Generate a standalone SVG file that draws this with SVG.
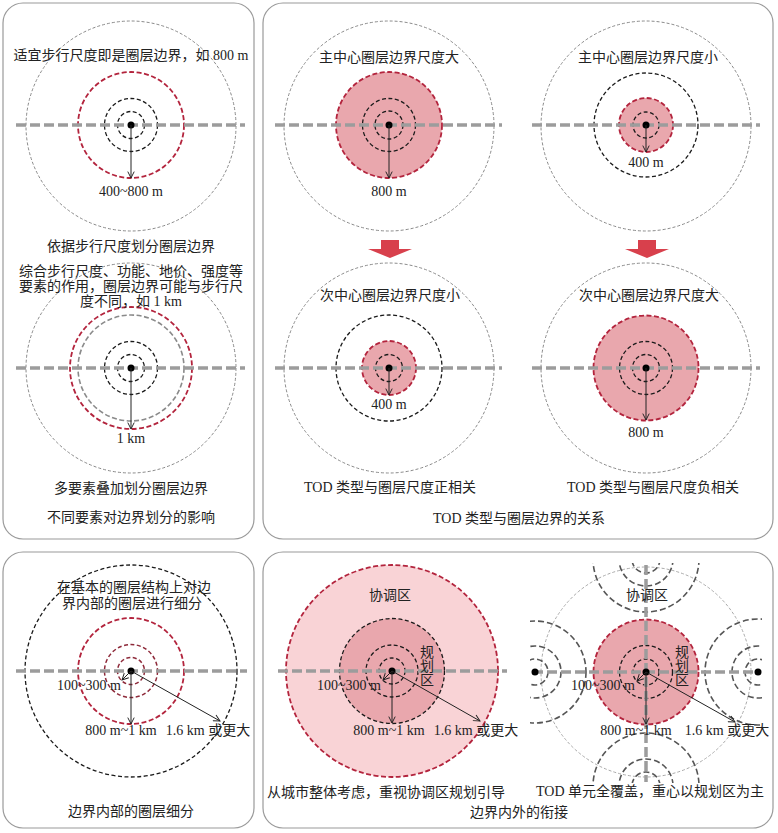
<svg xmlns="http://www.w3.org/2000/svg" width="778" height="833" viewBox="0 0 778 833">
<defs>
<style>
.panel{fill:#fff;stroke:#9a9a9a;stroke-width:1.2}
.axis{stroke:#9c9c9c;stroke-width:3.5;stroke-dasharray:10 4;fill:none}
.outer{fill:none;stroke:#8a8a8a;stroke-width:1;stroke-dasharray:3 2}
.outerl{fill:none;stroke:#aaaaaa;stroke-width:1;stroke-dasharray:3 2}
.blk{fill:none;stroke:#1a1a1a;stroke-width:1.3;stroke-dasharray:4 2.5}
.gry{fill:none;stroke:#8a8a8a;stroke-width:1.6;stroke-dasharray:5 2.5}
.red{fill:none;stroke:#b3243d;stroke-width:1.8;stroke-dasharray:5 2.5}
.mar{fill:none;stroke:#8e2a3a;stroke-width:1.5;stroke-dasharray:4 2.5}
.nb{fill:none;stroke:#555;stroke-width:1.6;stroke-dasharray:6 3}
.pink{fill:#e9a7ad}
.lpink{fill:#f9d3d6}
.dot{fill:#000}
.arr{stroke:#222;stroke-width:1;fill:none;marker-end:url(#ah)}
.blockarrow{fill:#d8404c}
text{font-family:'Liberation Serif','Noto Sans CJK SC',serif;font-size:14px;fill:#222;text-anchor:middle}
</style>
<marker id="ah" viewBox="0 0 10 10" refX="9" refY="5" markerWidth="8" markerHeight="8" orient="auto" markerUnits="userSpaceOnUse"><path d="M1,1 L9,5 L1,9" fill="none" stroke="#222" stroke-width="1.2"/></marker>
<clipPath id="nbclip"><rect x="530" y="563" width="232" height="220"/></clipPath>
</defs>

<g id="panels">
<rect class="panel" x="3" y="3" width="251" height="536" rx="20"/>
<rect class="panel" x="263" y="3" width="510" height="536" rx="20"/>
<rect class="panel" x="3" y="552" width="251" height="276" rx="20"/>
<rect class="panel" x="263" y="552" width="510" height="276" rx="20"/>
</g>

<g id="walk-scale">
<circle class="outer" cx="131" cy="126" r="105"/>
<circle class="red" cx="131" cy="125" r="53"/>
<circle class="blk" cx="131" cy="125" r="26.5"/>
<circle class="blk" cx="131" cy="125" r="13.5"/>
<line class="axis" x1="16" y1="125" x2="245" y2="125"/>
<circle class="dot" cx="131" cy="125" r="3.5"/>
<text x="131" y="60">适宜步行尺度即是圈层边界，如 800 m</text>
<text x="131" y="196">400~800 m</text>
<text x="131" y="251">依据步行尺度划分圈层边界</text>
</g>

<g id="multi-factor">
<circle class="outer" cx="131" cy="368" r="105"/>
<circle class="red" cx="131" cy="368" r="61"/>
<circle class="gry" cx="131" cy="368" r="53"/>
<circle class="blk" cx="131" cy="368" r="26.5"/>
<circle class="blk" cx="131" cy="368" r="13.5"/>
<line class="axis" x1="16" y1="368" x2="245" y2="368"/>
<circle class="dot" cx="131" cy="368" r="3.5"/>
<text x="131" y="276">综合步行尺度、功能、地价、强度等</text>
<text x="131" y="291">要素的作用，圈层边界可能与步行尺</text>
<text x="131" y="306">度不同，如 1 km</text>
<text x="131" y="443">1 km</text>
<text x="131" y="493">多要素叠加划分圈层边界</text>
<text x="131" y="522">不同要素对边界划分的影响</text>
</g>

<g id="main-large">
<circle class="outer" cx="389" cy="126" r="105"/>
<circle class="pink" cx="389" cy="125" r="53"/>
<circle class="red" cx="389" cy="125" r="53"/>
<circle class="blk" cx="389" cy="125" r="26.5"/>
<circle class="blk" cx="389" cy="125" r="14"/>
<line class="axis" x1="275" y1="125" x2="502" y2="125"/>
<circle class="dot" cx="389" cy="125" r="3.5"/>
<text x="389" y="62">主中心圈层边界尺度大</text>
<text x="389" y="196">800 m</text>
</g>

<g id="main-small">
<circle class="outer" cx="646" cy="126" r="105"/>
<circle class="blk" cx="646" cy="125" r="52"/>
<circle class="pink" cx="646" cy="125" r="27"/>
<circle class="red" cx="646" cy="125" r="27"/>
<circle class="blk" cx="646" cy="125" r="13"/>
<line class="axis" x1="532" y1="125" x2="760" y2="125"/>
<circle class="dot" cx="646" cy="125" r="3.5"/>
<text x="648" y="62">主中心圈层边界尺度小</text>
<text x="646" y="167">400 m</text>
</g>

<g id="sub-small">
<circle class="outer" cx="389" cy="368" r="105"/>
<circle class="blk" cx="389" cy="368" r="53"/>
<circle class="pink" cx="389" cy="368" r="27"/>
<circle class="red" cx="389" cy="368" r="27"/>
<circle class="blk" cx="389" cy="368" r="13.5"/>
<line class="axis" x1="275" y1="368" x2="502" y2="368"/>
<circle class="dot" cx="389" cy="368" r="3.5"/>
<text x="390" y="300">次中心圈层边界尺度小</text>
<text x="389" y="409">400 m</text>
<text x="390" y="492">TOD 类型与圈层尺度正相关</text>
</g>

<g id="sub-large">
<circle class="outer" cx="646" cy="368" r="105"/>
<circle class="pink" cx="646" cy="368" r="52.5"/>
<circle class="red" cx="646" cy="368" r="52.5"/>
<circle class="blk" cx="646" cy="368" r="26.5"/>
<circle class="blk" cx="646" cy="368" r="13.5"/>
<line class="axis" x1="532" y1="368" x2="760" y2="368"/>
<circle class="dot" cx="646" cy="368" r="3.5"/>
<text x="649" y="300">次中心圈层边界尺度大</text>
<text x="646" y="437">800 m</text>
<text x="653" y="492">TOD 类型与圈层尺度负相关</text>
<text x="519" y="523">TOD 类型与圈层边界的关系</text>
</g>

<g id="inner-subdivision">
<circle class="blk" cx="131" cy="671" r="106"/>
<circle class="red" cx="131" cy="671" r="53"/>
<circle class="mar" cx="131" cy="671" r="26.5"/>
<circle class="mar" cx="131" cy="671" r="13.5"/>
<line class="axis" x1="16" y1="671" x2="247" y2="671"/>
<circle class="dot" cx="131" cy="671" r="3.5"/>
<text x="134" y="592">在基本的圈层结构上对边</text>
<text x="132" y="608">界内部的圈层进行细分</text>
<text x="89" y="690">100~300 m</text>
<text x="121" y="735">800 m~1 km</text>
<text x="208" y="735">1.6 km 或更大</text>
<text x="131" y="816">边界内部的圈层细分</text>
</g>

<g id="coordination-zone">
<circle class="lpink" cx="392" cy="671" r="106"/>
<circle class="red" cx="392" cy="671" r="106"/>
<circle class="pink" cx="392" cy="671" r="52.5"/>
<circle class="blk" cx="392" cy="671" r="52.5"/>
<circle class="blk" cx="392" cy="671" r="26"/>
<circle class="blk" cx="392" cy="671" r="13"/>
<line class="axis" x1="278" y1="671" x2="507" y2="671"/>
<circle class="dot" cx="392" cy="671" r="3.5"/>
<text x="390" y="600">协调区</text>
<text x="427" y="657">规</text>
<text x="427" y="671">划</text>
<text x="427" y="685">区</text>
<text x="349" y="690">100~300 m</text>
<text x="389" y="735">800 m~1 km</text>
<text x="476" y="735">1.6 km 或更大</text>
<text x="386" y="797">从城市整体考虑，重视协调区规划引导</text>
<text x="519" y="817">边界内外的衔接</text>
</g>

<g id="full-coverage">
<circle class="outerl" cx="646" cy="672" r="105"/>
<g clip-path="url(#nbclip)">
<circle class="nb" cx="535" cy="672" r="13"/>
<circle class="nb" cx="535" cy="672" r="26"/>
<circle class="nb" cx="535" cy="672" r="51"/>
<circle class="nb" cx="758" cy="672" r="13"/>
<circle class="nb" cx="758" cy="672" r="26"/>
<circle class="nb" cx="758" cy="672" r="53"/>
<circle class="nb" cx="646" cy="559" r="14"/>
<circle class="nb" cx="646" cy="559" r="27"/>
<circle class="nb" cx="646" cy="559" r="53"/>
<circle class="nb" cx="646" cy="786" r="14"/>
<circle class="nb" cx="646" cy="786" r="27"/>
<circle class="nb" cx="646" cy="786" r="53"/>
</g>
<circle class="pink" cx="646" cy="672" r="52.5"/>
<circle class="red" cx="646" cy="672" r="52.5"/>
<circle class="blk" cx="646" cy="672" r="26.5"/>
<circle class="blk" cx="646" cy="672" r="13"/>
<line class="axis" x1="533" y1="672" x2="758" y2="672"/>
<line class="axis" x1="646" y1="565" x2="646" y2="782"/>
<circle class="dot" cx="646" cy="672" r="3.5"/>
<circle class="dot" cx="535" cy="672" r="3.5"/>
<circle class="dot" cx="758" cy="672" r="3.5"/>
<text x="647" y="600">协调区</text>
<text x="682" y="657">规</text>
<text x="682" y="671">划</text>
<text x="682" y="685">区</text>
<text x="603" y="690">100~300 m</text>
<text x="636" y="735">800 m~1 km</text>
<text x="727" y="735">1.6 km 或更大</text>
<text x="650" y="796">TOD 单元全覆盖，重心以规划区为主</text>
</g>

<g id="connectors">
<line class="arr" x1="131" y1="125" x2="131" y2="178"/>
<line class="arr" x1="131" y1="368" x2="131" y2="429"/>
<line class="arr" x1="389" y1="125" x2="389" y2="178"/>
<line class="arr" x1="646" y1="125" x2="646" y2="152"/>
<line class="arr" x1="389" y1="368" x2="389" y2="395"/>
<line class="arr" x1="646" y1="368" x2="646" y2="420"/>
<path class="blockarrow" d="M381,240 H399 V249 H412 L390,258 L368,249 H381 Z"/>
<path class="blockarrow" d="M638,240 H656 V249 H669 L647,258 L625,249 H638 Z"/>
<line class="arr" x1="131" y1="671" x2="122" y2="680"/>
<line class="arr" x1="131" y1="671" x2="131" y2="724"/>
<line class="arr" x1="131" y1="671" x2="220" y2="721"/>
<line class="arr" x1="392" y1="671" x2="383" y2="680"/>
<line class="arr" x1="392" y1="671" x2="392" y2="723"/>
<line class="arr" x1="392" y1="671" x2="480" y2="721"/>
<line class="arr" x1="646" y1="672" x2="637" y2="681"/>
<line class="arr" x1="646" y1="672" x2="646" y2="724"/>
<line class="arr" x1="646" y1="672" x2="735" y2="722"/>
</g>
</svg>
